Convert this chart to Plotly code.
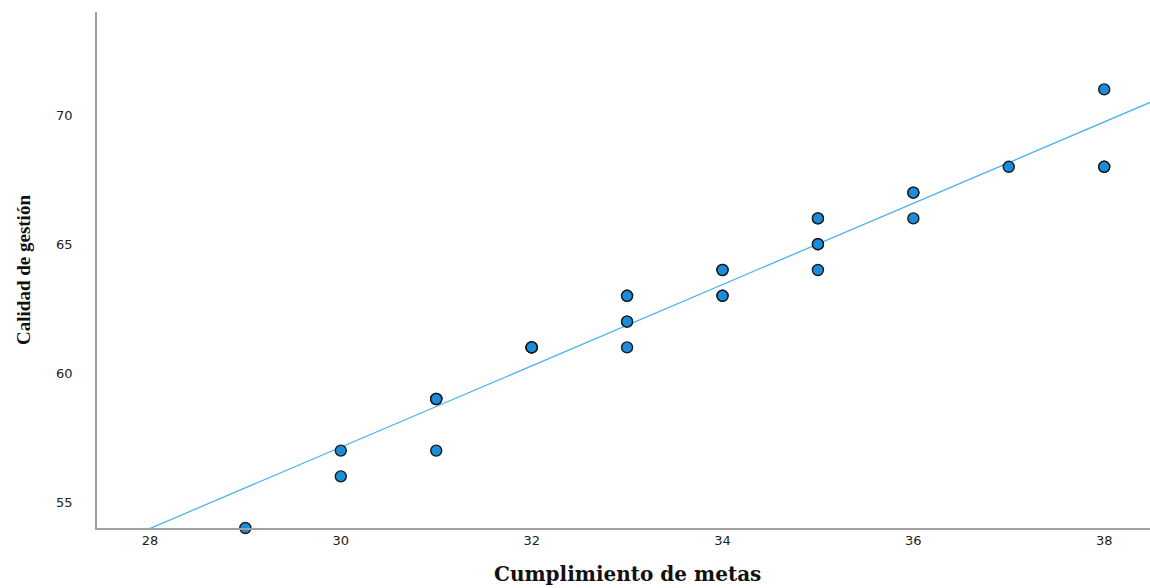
import numpy as np
import plotly.graph_objects as go

# data (repeated pairs show as bolder outlined markers)
cumplimiento = [29, 30, 30, 31, 31, 31, 31, 32, 32, 32, 32, 33, 33, 33, 33, 33,
                34, 34, 34, 34, 35, 35, 35, 35, 35, 36, 36, 36, 37, 38, 38, 38]
calidad = [54, 57, 56, 59, 59, 59, 57, 61, 61, 61, 61, 63, 63, 62, 62, 61,
           64, 64, 63, 63, 66, 66, 65, 65, 64, 67, 67, 66, 68, 71, 68, 68]
x_ticks = [28, 30, 32, 34, 36, 38]
y_ticks = [55, 60, 65, 70]
x_range = [27.445, 38.48]
y_range = [54, 74]

x = np.array(cumplimiento, dtype=float)
y = np.array(calidad, dtype=float)
slope, intercept = np.polyfit(x, y, 1)
lx = np.array(x_range)
ly = intercept + slope * lx

fig = go.Figure()
fig.add_trace(go.Scatter(x=lx, y=ly, mode="lines",
                         line=dict(color="#4DB2EE", width=1.3),
                         hoverinfo="skip", showlegend=False))
fig.add_trace(go.Scatter(x=x, y=y, mode="markers",
                         marker=dict(size=11, color="#1B8CDC",
                                     line=dict(color="#1a1a1a", width=1.4)),
                         showlegend=False, cliponaxis=False))

fig.add_annotation(text="<b>Cumplimiento de metas</b>", xref="paper", yref="paper",
                   x=0.504, y=0, yshift=-46, xanchor="center", yanchor="middle",
                   showarrow=False,
                   font=dict(family="DejaVu Serif", size=20, color="#111"))

fig.update_layout(
    width=1150, height=588,
    margin=dict(l=97, r=0, t=12, b=60, autoexpand=False),
    paper_bgcolor="white", plot_bgcolor="white",
    xaxis=dict(range=x_range, tickvals=x_ticks, showgrid=False, zeroline=False,
               showline=True, linecolor="#a0a0a0", linewidth=1.5, ticks="",
               tickfont=dict(family="DejaVu Sans", size=13, color="#222")),
    yaxis=dict(range=y_range, tickvals=y_ticks, showgrid=False, zeroline=False,
               showline=True, linecolor="#a0a0a0", linewidth=1.5, ticks="",
               tickfont=dict(family="DejaVu Sans", size=13, color="#222"),
               ticklabelstandoff=20,
               title=dict(text="<b>Calidad de gestión</b>",
                          font=dict(family="Liberation Serif", size=19, color="#111"),
                          standoff=20)),
)

fig.write_html("out.html", config={"displayModeBar": False},
               post_script="document.body.style.margin='0';document.body.style.overflow='hidden';")
